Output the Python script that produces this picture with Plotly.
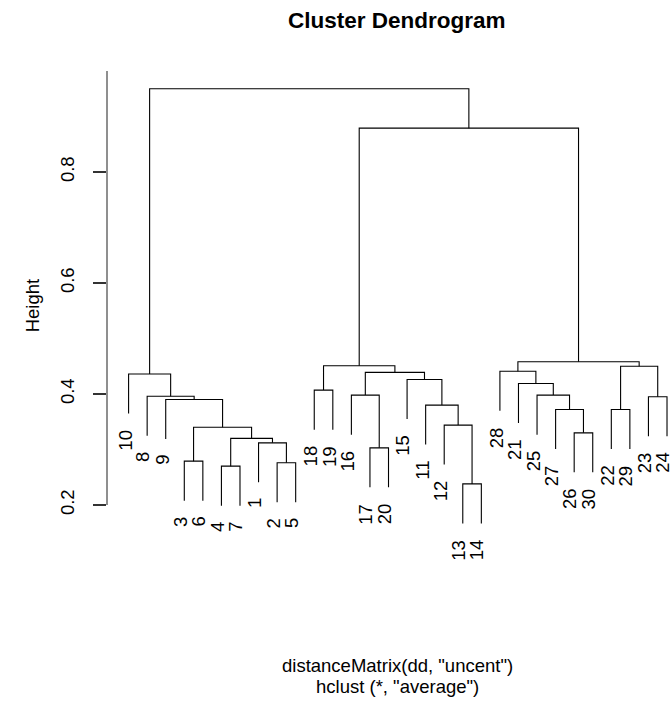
import plotly.graph_objects as go

# ---------------- data ----------------
leaf_order = [10, 8, 9, 3, 6, 4, 7, 1, 2, 5, 18, 19, 16, 17, 20, 15, 11, 12, 13, 14,
              28, 21, 25, 27, 26, 30, 22, 29, 23, 24]
# merges in hclust style: negative = leaf id, positive = earlier merge (1-based)
merge_left = [-13, -4, -2, -3, -17, -1, 2, -26, 4, -12, -22, -27, -11, -9, -23,
              -8, -25, -16, -18, -21, -15, -10, 18, -28, 11, 19, 24, 26, 22]
merge_right = [-14, -7, -5, -6, -20, 3, 6, -30, 7, 1, -29, 8, 10, 9, -24,
               14, 12, 5, -19, 17, 13, 16, 21, 20, 15, 23, 25, 27, 28]
merge_height = [0.238, 0.270, 0.276, 0.279, 0.303, 0.312, 0.320, 0.330, 0.340, 0.344,
                0.372, 0.372, 0.380, 0.390, 0.395, 0.396, 0.398, 0.398, 0.407, 0.419,
                0.426, 0.436, 0.439, 0.441, 0.450, 0.451, 0.458, 0.879, 0.950]
y_ticks = [0.2, 0.4, 0.6, 0.8]
title_text = "Cluster Dendrogram"
xlab_text = 'distanceMatrix(dd, "uncent")'
sub_text = 'hclust (*, "average")'
ylab_text = "Height"

# ---------------- geometry from data ----------------
hang = 0.1 * (max(merge_height) - min(merge_height))
leaf_x = {lf: i + 1 for i, lf in enumerate(leaf_order)}
node_x = {}
node_y = {}
xs, ys = [], []
leaf_bottom = {}
for i, (a, b, h) in enumerate(zip(merge_left, merge_right, merge_height), start=1):
    pts = []
    for c in (a, b):
        if c < 0:
            cx = leaf_x[-c]
            cy = h - hang
            leaf_bottom[-c] = cy
        else:
            cx = node_x[c]
            cy = node_y[c]
        pts.append((cx, cy))
    (xa, ya), (xb, yb) = pts
    xs += [xa, xa, xb, xb, None]
    ys += [ya, h, h, yb, None]
    node_x[i] = (xa + xb) / 2
    node_y[i] = h

W, H = 671, 704
L, T, B = 106.7, 71, 163
sp = 18.576
xmin = 1 - (128.3 - L) / sp
xmax = 1 + (W - 128.3) / sp
ymax = 0.2 + (505 - T) / 555.0
ymin = 0.2 - (541 - 505) / 555.0

FONT = "Liberation Sans, Arial, Helvetica, sans-serif"

fig = go.Figure()
fig.add_trace(go.Scatter(x=xs, y=ys, mode="lines",
                         line=dict(color="black", width=1.1),
                         hoverinfo="skip", showlegend=False))

annotations = []
for lf in leaf_order:
    annotations.append(dict(x=leaf_x[lf], y=leaf_bottom[lf], xref="x", yref="y",
                            text=str(lf), textangle=-90, showarrow=False, borderpad=0,
                            xanchor="center", yanchor="top", yshift=-15, xshift=-4,
                            font=dict(family=FONT, size=18.5, color="black")))

plot_w = W - L
cx_paper = (397.3 - L) / plot_w
plot_h = H - T - B
annotations.append(dict(x=cx_paper, y=1 + (T - 21) / plot_h, xref="paper", yref="paper",
                        text="<b>" + title_text + "</b>", showarrow=False,
                        xanchor="center", yanchor="middle",
                        font=dict(family=FONT, size=22.5, color="black")))
annotations.append(dict(x=cx_paper, y=-(665 - (H - B)) / plot_h, xref="paper", yref="paper",
                        text=xlab_text, showarrow=False, xanchor="center", yanchor="middle",
                        font=dict(family=FONT, size=18.5, color="black")))
annotations.append(dict(x=cx_paper, y=-(686 - (H - B)) / plot_h, xref="paper", yref="paper",
                        text=sub_text, showarrow=False, xanchor="center", yanchor="middle",
                        font=dict(family=FONT, size=18.5, color="black")))
annotations.append(dict(x=-(L - 32) / plot_w, y=0.5, xref="paper", yref="paper",
                        text=ylab_text, textangle=-90, showarrow=False,
                        xanchor="center", yanchor="middle",
                        font=dict(family=FONT, size=18.5, color="black")))

fig.update_layout(
    width=W, height=H,
    margin=dict(l=L, r=0, t=T, b=B, pad=0),
    paper_bgcolor="white", plot_bgcolor="white",
    showlegend=False,
    annotations=annotations,
    shapes=[dict(type="line", xref="paper", yref="y", x0=0, x1=0, y0=0.2, y1=ymax,
                 line=dict(color="#333333", width=1.1))],
    xaxis=dict(range=[xmin, xmax], visible=False, showgrid=False, zeroline=False),
    yaxis=dict(range=[ymin, ymax], showgrid=False, zeroline=False, showline=False,
               tickmode="array", tickvals=y_ticks, ticktext=[f"{v:.1f}" for v in y_ticks],
               ticks="outside", ticklen=13, tickcolor="#333333", tickwidth=1.1,
               tickangle=-90, ticklabelstandoff=12,
               tickfont=dict(family=FONT, size=18.5, color="black")),
)

fig.write_html("out.html",
               config={"displayModeBar": False, "staticPlot": True},
               post_script="document.body.style.margin='0';document.body.style.padding='0';"
                           "document.body.style.overflow='hidden';")
